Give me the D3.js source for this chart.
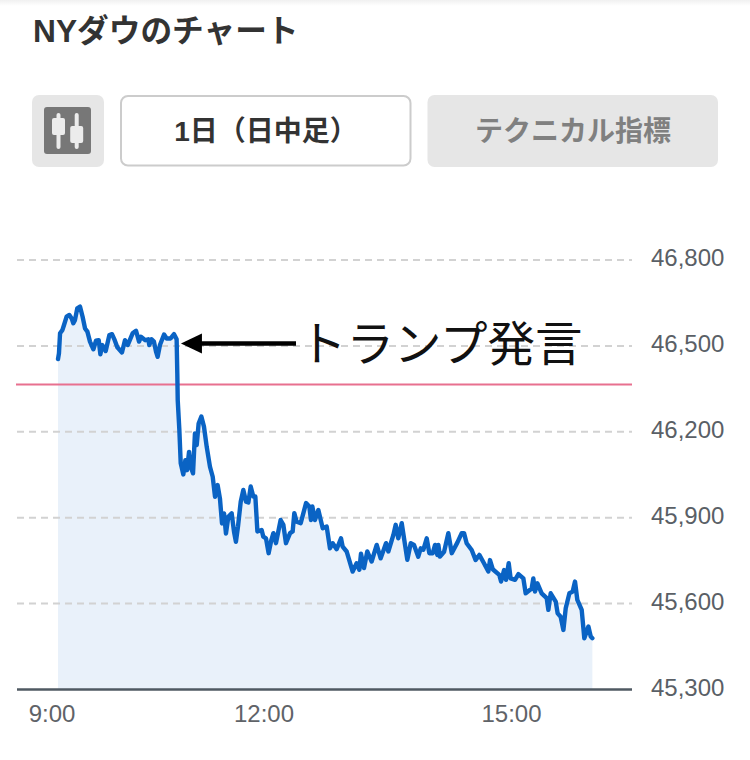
<!DOCTYPE html>
<html><head><meta charset="utf-8">
<script src="https://cdn.jsdelivr.net/npm/d3@7/dist/d3.min.js"></script>
<style>html,body{margin:0;padding:0;background:#fff}svg{display:block}
text{font-family:"Liberation Sans","Noto Sans CJK JP",sans-serif}</style></head><body>
<svg id="c" width="750" height="760"></svg>
<script>
const title = "NYダウのチャート";
const rangeLabel = "1日（日中足）";
const techLabel = "テクニカル指標";
const annotation = "トランプ発言";
const yTicks = [45300,45600,45900,46200,46500,46800];
const xTicks = [0,180,360];
const xTickLabels = ["9:00","12:00","15:00"];
const prevClose = 46365;
// minutes after 9:00
const minutes = [30,30.7,31.5,33.2,34.4,36.3,38.3,40,41.2,42.4,44.1,46.1,48,49.8,51.5,53.4,55.9,57.8,59.8,61,62.4,64.9,67.6,69.5,71.5,73.4,76.8,79,81,84.6,87.1,89.3,90.7,93.9,96.1,96.8,98.5,100.2,101.7,102.9,104.6,107.6,109.5,112.4,114.9,116.8,117.3,117.6,118.8,119.8,121.7,123.2,124.4,125.9,127.1,128.8,130.2,131.5,132.9,134.9,136.8,138.8,141.2,143.2,144.9,146.8,148.5,150,151.5,152.9,154.6,157.1,158.8,160.2,161.7,163.7,165.6,167.6,169.3,171,172.9,174.4,175.9,179,180.2,182.2,184.1,186.1,187.6,189.5,192.9,194.9,196.8,199.8,201.7,202.9,204.6,207.6,211.5,213.9,215.1,216.1,218,220.5,223.7,226.6,229,231,233.9,237.1,238.3,241.2,245.6,248.5,250.5,251.7,253.9,256.3,259.5,263.2,266.1,270,271.7,275.4,277.1,279,281.5,285.6,288.1,290.5,293.6,295.4,297.3,299.8,301.7,304.2,305.9,307.6,308.3,309.5,312.5,315.6,318.1,322.2,325.4,327.1,329,332.7,335.6,338.3,341.7,344.9,346.1,348.1,352.9,354.2,356.4,357.8,359.8,361.2,364.4,366.9,370.5,372.2,376.6,377.8,379,380.8,383.9,387.6,388.8,390.5,394.2,395.6,397.8,399.8,401.5,404.2,406.6,408.3,410,413.2,415.1,418.1,419.8,421];
const prices = [46454,46474,46544,46555,46573,46602,46608,46596,46579,46590,46631,46637,46602,46561,46550,46515,46488,46518,46520,46471,46503,46482,46538,46541,46520,46495,46477,46520,46503,46544,46553,46515,46532,46520,46523,46503,46523,46515,46480,46462,46503,46540,46526,46526,46541,46523,46404,46311,46206,46090,46051,46101,46066,46130,46078,46055,46194,46154,46229,46253,46218,46148,46078,46043,45973,46014,45967,45880,45915,45845,45903,45915,45851,45816,45869,45956,45997,45956,45953,46009,45974,45974,45852,45857,45834,45828,45776,45822,45846,45811,45892,45875,45811,45846,45852,45916,45886,45881,45951,45939,45892,45939,45892,45927,45863,45869,45793,45811,45790,45828,45799,45782,45712,45741,45718,45774,45724,45782,45747,45805,45758,45811,45782,45840,45875,45828,45881,45753,45811,45805,45764,45793,45788,45828,45776,45776,45805,45770,45805,45764,45781,45846,45776,45813,45846,45846,45811,45787,45752,45770,45741,45712,45752,45720,45700,45677,45717,45683,45741,45688,45683,45703,45688,45636,45653,45688,45642,45671,45636,45619,45578,45636,45607,45566,45554,45508,45584,45636,45642,45677,45613,45578,45479,45520,45485,45479];
const points = minutes.map((m,i)=>({m,v:prices[i]}));

const svg = d3.select("#c");
const x = d3.scaleLinear().domain([0,450]).range([17,632]);
const y = d3.scaleLinear().domain([45300,46800]).range([689.5,260]);

const defs = svg.append("defs");
const g0 = defs.append("linearGradient").attr("id","sh").attr("x1",0).attr("x2",0).attr("y1",0).attr("y2",1);
g0.append("stop").attr("offset",0).attr("stop-color","#f0f0f0");
g0.append("stop").attr("offset",1).attr("stop-color","#fff");
svg.append("rect").attr("width",750).attr("height",6).attr("fill","url(#sh)");

svg.append("text").attr("x",33).attr("y",41.5).attr("font-size",31.7).attr("font-weight",700).attr("fill","#333").text(title);

// icon button
svg.append("rect").attr("x",32).attr("y",95).attr("width",72).attr("height",72).attr("rx",7).attr("fill","#e6e6e6");
svg.append("rect").attr("x",44).attr("y",107).attr("width",47).attr("height",47).attr("rx",3).attr("fill","#777");
[[58.5,113,149,118,135],[76.7,113,149,126,143]].forEach(([cx,t,b,bt,bb])=>{
  svg.append("line").attr("x1",cx).attr("x2",cx).attr("y1",t+2).attr("y2",b-2).attr("stroke","#ececec").attr("stroke-width",4).attr("stroke-linecap","round");
  svg.append("rect").attr("x",cx-6.5).attr("y",bt).attr("width",13).attr("height",bb-bt).attr("rx",2).attr("fill","#ececec");
});
// range button
svg.append("rect").attr("x",121).attr("y",96).attr("width",289.5).attr("height",69.5).attr("rx",7).attr("fill","#fff").attr("stroke","#ccc").attr("stroke-width",2);
svg.append("text").attr("x",266).attr("y",141).attr("text-anchor","middle").attr("font-size",28).attr("font-weight",700).attr("fill","#333").text(rangeLabel);
// technical button
svg.append("rect").attr("x",427.5).attr("y",95).attr("width",290.5).attr("height",72).attr("rx",7).attr("fill","#e6e6e6");
svg.append("text").attr("x",573).attr("y",141).attr("text-anchor","middle").attr("font-size",28).attr("font-weight",700).attr("fill","#808080").text(techLabel);

// y labels
const yAxis = svg.append("g").attr("transform","translate(632,0)")
  .call(d3.axisRight(y).tickValues(yTicks).tickFormat(d3.format(",")).tickSize(0).tickPadding(19));
yAxis.select(".domain").remove();
yAxis.selectAll("text").attr("font-size",24).attr("fill","#5a5f66").attr("dy","0.23em").style("font-family",'"Liberation Sans",sans-serif');

// area
svg.append("path").datum(points).attr("fill","#e9f1fa")
  .attr("d",d3.area().x(d=>x(d.m)).y0(y(45300)).y1(d=>y(d.v)));
// grid
svg.append("g").selectAll("line").data(yTicks.filter(d=>d!==45300)).join("line")
  .attr("x1",17).attr("x2",632).attr("y1",d=>y(d)).attr("y2",d=>y(d))
  .attr("stroke","#d2d2d2").attr("stroke-width",2).attr("stroke-dasharray","7 5");

// previous close
svg.append("line").attr("x1",16).attr("x2",632).attr("y1",y(prevClose)).attr("y2",y(prevClose))
  .attr("stroke","#e8708f").attr("stroke-width",2);

// line
svg.append("path").datum(points).attr("fill","none").attr("stroke","#0a63c4").attr("stroke-width",4.4)
  .attr("stroke-linejoin","round").attr("stroke-linecap","round")
  .attr("d",d3.line().x(d=>x(d.m)).y(d=>y(d.v)));

// baseline
svg.append("line").attr("x1",17).attr("x2",632).attr("y1",y(45300)).attr("y2",y(45300)).attr("stroke","#4f5962").attr("stroke-width",2.4);

// x labels
const xAxis = svg.append("g").attr("transform",`translate(0,${y(45300)})`)
  .call(d3.axisBottom(x).tickValues(xTicks).tickFormat((d,i)=>xTickLabels[i]).tickSize(0).tickPadding(15));
xAxis.select(".domain").remove();
xAxis.selectAll("text").attr("font-size",24).attr("fill","#5f6368").attr("dy","0.71em").style("font-family",'"Liberation Sans",sans-serif')
  .attr("dx",(d,i)=>i===0?34.5:(i===2?2:0.5));

// annotation arrow
const ay = 343.5;
const ax = x(119.6)+0.5;
svg.append("line").attr("x1",ax+15).attr("x2",296).attr("y1",ay).attr("y2",ay).attr("stroke","#000").attr("stroke-width",4.6);
svg.append("path").attr("d",d3.line()([[ax,ay],[ax+21,ay-10],[ax+21,ay+10]])+"Z").attr("fill","#000");
svg.append("text").attr("x",299).attr("y",361).attr("font-size",47.5).attr("fill","#111").style("font-family",'"Noto Sans CJK JP"').text(annotation);
</script></body></html>
